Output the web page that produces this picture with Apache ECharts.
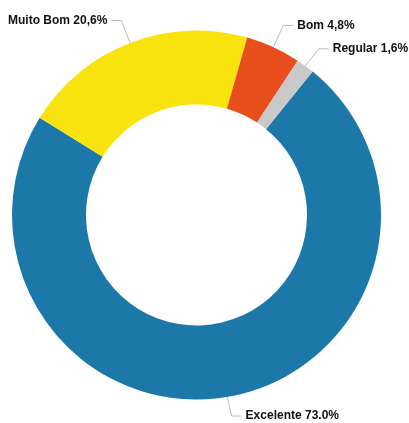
<!DOCTYPE html>
<html>
<head>
<meta charset="utf-8">
<script src="https://cdn.jsdelivr.net/npm/echarts@6/dist/echarts.min.js"></script>
<style>
html,body{margin:0;padding:0;background:#fff;}
#chart{width:409px;height:423px;}
</style>
</head>
<body>
<div id="chart"></div>
<script>
var categories = ['Excelente', 'Muito Bom', 'Bom', 'Regular'];
var values = [73.0, 20.6, 4.8, 1.6];
var labelTexts = ['Excelente 73.0%', 'Muito Bom 20,6%', 'Bom 4,8%', 'Regular 1,6%'];
var colors = ['#1b78a8', '#f8e30f', '#e84e1c', '#c9c9c9'];
var lineLengths = [26, 24, 24, 21];

var chart = echarts.init(document.getElementById('chart'), null, {renderer: 'canvas'});
var data = categories.map(function (c, i) {
  return {name: c, value: values[i], itemStyle: {color: colors[i]},
          label: {formatter: labelTexts[i]},
          labelLine: {length: lineLengths[i]}};
});
chart.setOption({
  animation: false,
  series: [{
    type: 'pie',
    center: [196.5, 215],
    radius: [110.5, 184.5],
    startAngle: 51,
    clockwise: true,
    avoidLabelOverlap: true,
    data: data,
    itemStyle: {borderWidth: 0},
    label: {
      show: true,
      position: 'outside',
      color: '#111111',
      fontFamily: '"Liberation Sans", Arial, sans-serif',
      fontWeight: 'bold',
      fontSize: 12,
      overflow: 'none',
      distanceToLabelLine: 4
    },
    labelLine: {
      show: true,
      length: 22,
      length2: 10,
      lineStyle: {color: '#bbbbbb', width: 1}
    },
    emphasis: {disabled: true}
  }]
});
</script>
</body>
</html>
